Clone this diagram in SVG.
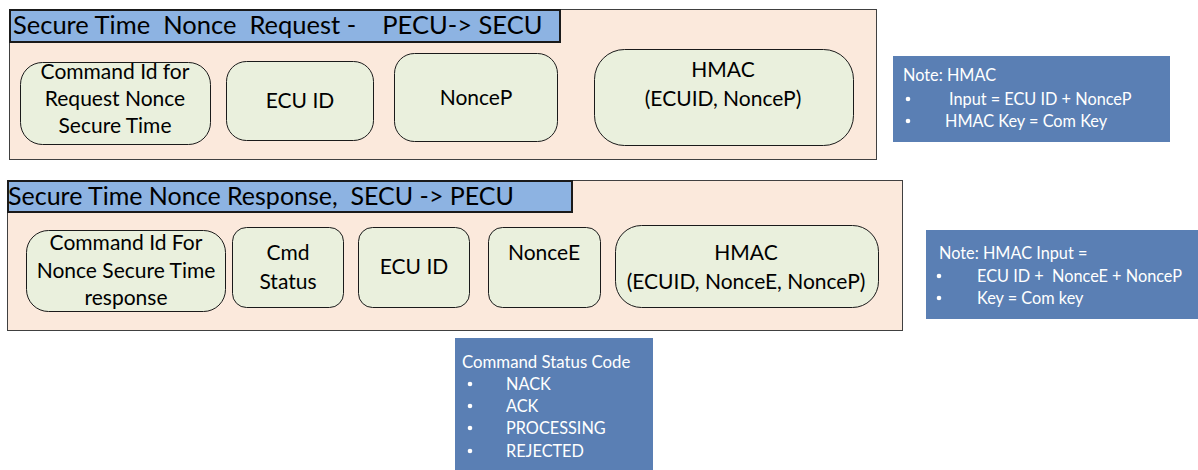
<svg xmlns="http://www.w3.org/2000/svg" width="1198" height="470" viewBox="0 0 1198 470">
  <style>
    .frame { fill: #fbe9dc; stroke: #404040; stroke-width: 1; }
    .title { fill: #8db3e2; stroke: #1a1a1a; stroke-width: 2; }
    .title-text { font-family: Lato, "Liberation Sans", Arial, sans-serif; font-size: 25px; fill: #000; }
    .field { fill: #eaf0dd; stroke: #1a1a1a; stroke-width: 1; }
    .field-text { font-family: Lato, "Liberation Sans", Arial, sans-serif; font-size: 21px; fill: #000; text-anchor: middle; }
    .note { fill: #5a7fb4; }
    .note-text { font-family: Lato, "Liberation Sans", Arial, sans-serif; font-size: 16.3px; fill: #ffffff; }
    .bullet { fill: #ffffff; }
  </style>

  <!-- Request message -->
  <g id="request">
    <rect class="frame" x="9.5" y="9.5" width="867" height="150"/>
    <rect class="title" x="10" y="10" width="550" height="32"/>
    <text class="title-text" x="13" y="34" xml:space="preserve" style="font-size:25.5px">Secure Time  Nonce  Request -    PECU-&gt; SECU</text>
  </g>
  <g id="req-cmd-id">
    <rect class="field" x="20.5" y="62.5" width="190" height="82" rx="22"/>
    <text class="field-text" x="115" y="79">Command Id for</text>
    <text class="field-text" x="115" y="106">Request Nonce</text>
    <text class="field-text" x="115" y="133">Secure Time</text>
  </g>
  <g id="req-ecu-id">
    <rect class="field" x="226.5" y="61.5" width="147" height="79" rx="20"/>
    <text class="field-text" x="300" y="108">ECU ID</text>
  </g>
  <g id="req-nonce">
    <rect class="field" x="394.5" y="53.5" width="163" height="88" rx="20"/>
    <text class="field-text" x="476" y="105">NonceP</text>
  </g>
  <g id="req-hmac">
    <rect class="field" x="594.5" y="49.5" width="259" height="96" rx="30"/>
    <text class="field-text" x="723" y="77">HMAC</text>
    <text class="field-text" x="723" y="106">(ECUID, NonceP)</text>
  </g>
  <g id="note-request">
    <rect class="note" x="893" y="56" width="277" height="86"/>
    <text class="note-text" x="903" y="81">Note: HMAC</text>
    <circle class="bullet" cx="908" cy="99" r="2.3"/>
    <text class="note-text" x="949" y="105">Input = ECU ID + NonceP</text>
    <circle class="bullet" cx="908" cy="121" r="2.3"/>
    <text class="note-text" x="945" y="127">HMAC Key = Com Key</text>
  </g>

  <!-- Response message -->
  <g id="response">
    <rect class="frame" x="7.5" y="180.5" width="895" height="150"/>
    <rect class="title" x="8" y="181" width="564" height="31"/>
    <text class="title-text" x="8" y="205" xml:space="preserve">Secure Time Nonce Response,  SECU -&gt; PECU</text>
  </g>
  <g id="resp-cmd-id">
    <rect class="field" x="26.5" y="230.5" width="199" height="81" rx="22"/>
    <text class="field-text" x="126" y="250">Command Id For</text>
    <text class="field-text" x="126" y="278">Nonce Secure Time</text>
    <text class="field-text" x="126" y="305">response</text>
  </g>
  <g id="resp-status">
    <rect class="field" x="232.5" y="227.5" width="111" height="80" rx="14"/>
    <text class="field-text" x="288" y="260">Cmd</text>
    <text class="field-text" x="288" y="289">Status</text>
  </g>
  <g id="resp-ecu-id">
    <rect class="field" x="358.5" y="227.5" width="111" height="80" rx="14"/>
    <text class="field-text" x="414" y="274">ECU ID</text>
  </g>
  <g id="resp-nonce">
    <rect class="field" x="488.5" y="227.5" width="112" height="80" rx="14"/>
    <text class="field-text" x="544" y="260">NonceE</text>
  </g>
  <g id="resp-hmac">
    <rect class="field" x="615.5" y="225.5" width="263" height="82" rx="26"/>
    <text class="field-text" x="746" y="260">HMAC</text>
    <text class="field-text" x="746" y="289">(ECUID, NonceE, NonceP)</text>
  </g>
  <g id="note-response">
    <rect class="note" x="926" y="230" width="272" height="89"/>
    <text class="note-text" x="939" y="259">Note: HMAC Input =</text>
    <circle class="bullet" cx="939" cy="276" r="2.3"/>
    <text class="note-text" x="977" y="282" xml:space="preserve">ECU ID +  NonceE + NonceP</text>
    <circle class="bullet" cx="939" cy="298" r="2.3"/>
    <text class="note-text" x="977" y="304">Key = Com key</text>
  </g>

  <!-- Status code legend -->
  <g id="status-codes">
    <rect class="note" x="455" y="338" width="198" height="132"/>
    <text class="note-text" x="462" y="368" style="font-size:16.8px">Command Status Code</text>
    <circle class="bullet" cx="470" cy="384" r="2.3"/>
    <text class="note-text" x="506" y="390">NACK</text>
    <circle class="bullet" cx="470" cy="406" r="2.3"/>
    <text class="note-text" x="506" y="412">ACK</text>
    <circle class="bullet" cx="470" cy="428" r="2.3"/>
    <text class="note-text" x="506" y="434">PROCESSING</text>
    <circle class="bullet" cx="470" cy="451" r="2.3"/>
    <text class="note-text" x="506" y="457">REJECTED</text>
  </g>

  <!-- no connectors in this diagram -->
  <g id="connectors"/>
</svg>
